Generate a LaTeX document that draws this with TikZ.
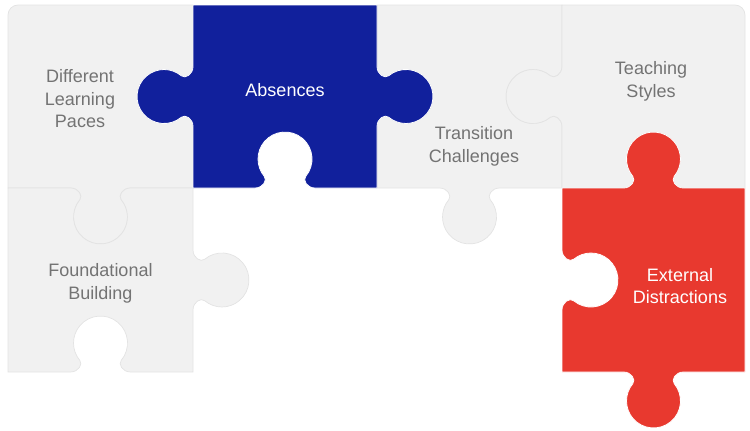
\documentclass[tikz,border=0pt]{standalone}
\usepackage{fontspec}
\setmainfont{Liberation Sans}
\usepackage{xcolor}
\usepackage{tikz}
\usetikzlibrary{positioning}
\definecolor{pzGray}{HTML}{F1F1F1}
\definecolor{pzEdge}{HTML}{E3E3E3}
\definecolor{pzBlue}{HTML}{11209C}
\definecolor{pzRed}{HTML}{E8392F}
\definecolor{pzText}{HTML}{737373}
% tab on an edge: #1 = edge midpoint, #2 = turn, #3 = 1 knob out / -1 hole in
\newcommand\pztab[3]{%
  {[shift={#1}, rotate=#2, yscale=#3]
    -- (-30,0) .. controls (-22,0) and (-17.5,7.8) .. (-20.7,11.6)
    arc[start angle=220, end angle=-40, radius=27]
    .. controls (17.5,7.8) and (22,0) .. (30,0)}}

\begin{document}
\begin{tikzpicture}[x=1pt, y=1pt,
  graypiece/.style={fill=pzGray, draw=pzEdge, line width=0.7pt},
  bluepiece/.style={fill=pzBlue, draw=white, line width=0.8pt},
  redpiece/.style={fill=pzRed, draw=white, line width=0.8pt},
  pzlabel/.style={align=center, text=pzText, font=\fontsize{18}{22.5}\selectfont},
  pzlabelw/.style={pzlabel, text=white}]
\useasboundingbox (0,0) rectangle (750,-431);
% grid: columns 8|193|377|562|745, rows 5|188|372
% ---------- row 1 ----------
\draw[graypiece] (8,-15) arc[start angle=180, end angle=90, radius=10] -- (193,-5)
  \pztab{(193,-96.5)}{-90}{-1} -- (193,-188)
  \pztab{(100.5,-188)}{180}{1} -- (8,-188) -- cycle;
\draw[graypiece] (377,-5) -- (562,-5)
  \pztab{(562,-96.5)}{-90}{-1} -- (562,-188)
  \pztab{(469.5,-188)}{180}{1} -- (377,-188)
  \pztab{(377,-96.5)}{90}{-1} -- cycle;
\draw[graypiece] (562,-5) -- (735,-5) arc[start angle=90, end angle=0, radius=10] -- (745,-188)
  \pztab{(653.5,-188)}{180}{-1} -- (562,-188)
  \pztab{(562,-96.5)}{90}{1} -- cycle;
% ---------- row 2 ----------
\draw[graypiece] (8,-188)
  \pztab{(100.5,-188)}{0}{-1} -- (193,-188)
  \pztab{(193,-280)}{-90}{1} -- (193,-372)
  \pztab{(100.5,-372)}{180}{-1} -- (8,-372) -- cycle;
% ---------- coloured pieces ----------
\draw[bluepiece] (193,-5) -- (377,-5)
  \pztab{(377,-96.5)}{-90}{1} -- (377,-188)
  \pztab{(285,-188)}{180}{-1} -- (193,-188)
  \pztab{(193,-96.5)}{90}{1} -- cycle;
\draw[redpiece] (562,-188)
  \pztab{(653.5,-188)}{0}{1} -- (745,-188) -- (745,-372)
  \pztab{(653.5,-372)}{180}{1} -- (562,-372)
  \pztab{(562,-280)}{90}{-1} -- cycle;
% ---------- labels ----------
\node[pzlabel] (paces) at (80,-99) {Different\\Learning\\Paces};
\node[pzlabelw] (absences) at (285,-90) {Absences};
\node[pzlabel] (transition) at (474,-146.5) {Transition\\Challenges};
\node[pzlabel] (styles) at (651,-81.5) {Teaching\\Styles};
\node[pzlabel] (foundation) at (100.5,-283.5) {Foundational\\Building};
\node[pzlabelw] (distractions) at (680,-286) {External\\Distractions};
\end{tikzpicture}
\end{document}
